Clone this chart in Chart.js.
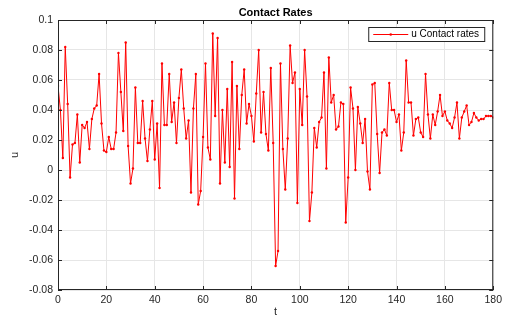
<!DOCTYPE html>
<html>
<head>
<meta charset="utf-8">
<script src="https://cdn.jsdelivr.net/npm/chart.js@4.4.1/dist/chart.umd.min.js"></script>
<style>
    html, body { margin: 0; padding: 0; background: #fff; }
    #chart-div { width: 506px; height: 320px; }
</style>
</head>
<body>
<div id="chart-div"><canvas id="chart" width="506" height="320"></canvas></div>
<script>
const chart_title = 'Contact Rates';
const series_label = 'u Contact rates';
const x_title = 't';
const y_title = 'u';
const x_ticks = [0, 20, 40, 60, 80, 100, 120, 140, 160, 180];
const y_ticks = [-0.08, -0.06, -0.04, -0.02, 0, 0.02, 0.04, 0.06, 0.08, 0.1];

// u(t), t = 0..180
const u_values = [
    0.056, 0.040, 0.008, 0.082, 0.044, -0.005, 0.017, 0.018, 0.037, 0.005,
    0.030, 0.028, 0.032, 0.014, 0.034, 0.041, 0.043, 0.064, 0.031, 0.013,
    0.012, 0.022, 0.014, 0.014, 0.025, 0.078, 0.052, 0.026, 0.085, 0.016,
    -0.009, 0.001, 0.055, 0.018, 0.018, 0.046, 0.021, 0.006, 0.027, 0.046,
    0.007, 0.031, -0.012, 0.071, 0.030, 0.030, 0.064, 0.032, 0.045, 0.018,
    0.048, 0.067, 0.041, 0.021, 0.033, -0.015, 0.041, 0.064, -0.023, -0.014,
    0.022, 0.071, 0.015, 0.007, 0.091, 0.036, 0.088, -0.009, 0.040, 0.005,
    0.054, 0.002, 0.072, -0.019, 0.056, 0.014, 0.050, 0.067, 0.031, 0.044,
    0.036, 0.019, 0.051, 0.080, 0.025, 0.052, 0.024, 0.013, 0.068, 0.018,
    -0.064, -0.054, 0.071, 0.014, -0.013, 0.021, 0.083, 0.058, 0.065, -0.022,
    0.054, 0.030, 0.080, 0.049, -0.034, -0.015, 0.028, 0.015, 0.032, 0.035,
    0.065, 0.001, 0.075, 0.045, 0.050, 0.027, 0.029, 0.045, 0.044, -0.035,
    -0.005, 0.055, 0.041, 0.000, 0.042, 0.031, 0.018, 0.034, -0.001, -0.013,
    0.057, 0.058, 0.024, -0.002, 0.025, 0.027, 0.023, 0.058, 0.040, 0.040,
    0.032, 0.037, 0.013, 0.025, 0.073, 0.045, 0.045, 0.023, 0.034, 0.035,
    0.025, 0.022, 0.064, 0.037, 0.021, 0.037, 0.030, 0.039, 0.050, 0.036,
    0.039, 0.033, 0.031, 0.028, 0.035, 0.045, 0.021, 0.035, 0.039, 0.043,
    0.030, 0.032, 0.038, 0.035, 0.033, 0.034, 0.034, 0.036, 0.036, 0.036,
    0.035
];
const t_values = u_values.map((_, i) => i);

const font_family = '"Liberation Sans", Arial, Helvetica, sans-serif';
const axis_color = '#262626';
const line_color = '#ff0000';

// matlab-like axes box: full frame, inward ticks, title and legend inside the plot
const matlabBox = {
    id: 'matlabBox',
    afterDraw(chart) {
        const ctx = chart.ctx;
        const { left, right, top, bottom } = chart.chartArea;
        const sx = chart.scales.x, sy = chart.scales.y;
        const tick = 4;
        ctx.save();
        ctx.strokeStyle = axis_color;
        ctx.lineWidth = 1;
        ctx.beginPath();
        x_ticks.forEach(v => {
            const px = Math.round(sx.getPixelForValue(v)) + 0.5;
            ctx.moveTo(px, bottom); ctx.lineTo(px, bottom - tick);
            ctx.moveTo(px, top); ctx.lineTo(px, top + tick);
        });
        y_ticks.forEach(v => {
            const py = Math.round(sy.getPixelForValue(v)) + 0.5;
            ctx.moveTo(left, py); ctx.lineTo(left + tick, py);
            ctx.moveTo(right, py); ctx.lineTo(right - tick, py);
        });
        ctx.stroke();
        ctx.strokeRect(left + 0.5, top + 0.5, right - left - 1, bottom - top - 1);

        // title
        ctx.fillStyle = '#000';
        ctx.font = 'bold 11px ' + font_family;
        ctx.textAlign = 'center';
        ctx.textBaseline = 'middle';
        ctx.fillText(chart_title, (left + right) / 2, top - 7);

        // legend
        const ds = chart.data.datasets[0];
        const bx = right - 125, by = top + 7, bw = 116, bh = 14;
        ctx.fillStyle = '#fff';
        ctx.fillRect(bx, by, bw, bh);
        ctx.strokeStyle = axis_color;
        ctx.strokeRect(bx + 0.5, by + 0.5, bw, bh);
        const my = by + bh / 2 + 0.5;
        ctx.strokeStyle = ds.borderColor;
        ctx.beginPath();
        ctx.moveTo(bx + 5, my); ctx.lineTo(bx + 40, my);
        ctx.stroke();
        ctx.fillStyle = ds.borderColor;
        ctx.beginPath();
        ctx.arc(bx + 22.5, my, 1.3, 0, Math.PI * 2);
        ctx.fill();
        ctx.fillStyle = '#000';
        ctx.font = '10px ' + font_family;
        ctx.textAlign = 'left';
        ctx.fillText(ds.label, bx + 43, my);
        ctx.restore();
    }
};

const tickFmt = v => Number(v.toFixed(2)).toString();

new Chart(document.getElementById('chart'), {
    type: 'line',
    data: {
        labels: t_values,
        datasets: [{
            label: series_label,
            data: u_values,
            borderColor: line_color,
            backgroundColor: line_color,
            borderWidth: 1,
            pointRadius: 1.2,
            pointBorderWidth: 0,
            pointBackgroundColor: line_color,
            tension: 0,
            fill: false
        }]
    },
    options: {
        responsive: false,
        animation: false,
        layout: { padding: { left: 0, right: 8, top: 20, bottom: 0 } },
        plugins: {
            legend: { display: false },
            title: { display: false },
            tooltip: { enabled: false }
        },
        scales: {
            x: {
                type: 'linear',
                min: x_ticks[0],
                max: x_ticks[x_ticks.length - 1],
                afterBuildTicks: s => { s.ticks = x_ticks.map(v => ({ value: v })); },
                afterFit: s => { s.height = 30; },
                grid: { color: '#e6e6e6', drawTicks: false },
                border: { display: false },
                ticks: {
                    padding: 4,
                    maxRotation: 0,
                    color: axis_color,
                    font: { family: font_family, size: 10.5 },
                    callback: tickFmt
                },
                title: {
                    display: true,
                    text: x_title,
                    color: axis_color,
                    font: { family: font_family, size: 11 },
                    padding: { top: 0, bottom: 1 }
                }
            },
            y: {
                min: y_ticks[0],
                max: y_ticks[y_ticks.length - 1],
                afterBuildTicks: s => { s.ticks = y_ticks.map(v => ({ value: v })); },
                afterFit: s => { s.width = 58; },
                grid: { color: '#e6e6e6', drawTicks: false },
                border: { display: false },
                ticks: {
                    padding: 5,
                    color: axis_color,
                    font: { family: font_family, size: 10.5 },
                    callback: tickFmt
                },
                title: {
                    display: true,
                    text: y_title,
                    color: axis_color,
                    font: { family: font_family, size: 11 },
                    padding: { top: 8, bottom: 0 }
                }
            }
        }
    },
    plugins: [matlabBox]
});
</script>
</body>
</html>
